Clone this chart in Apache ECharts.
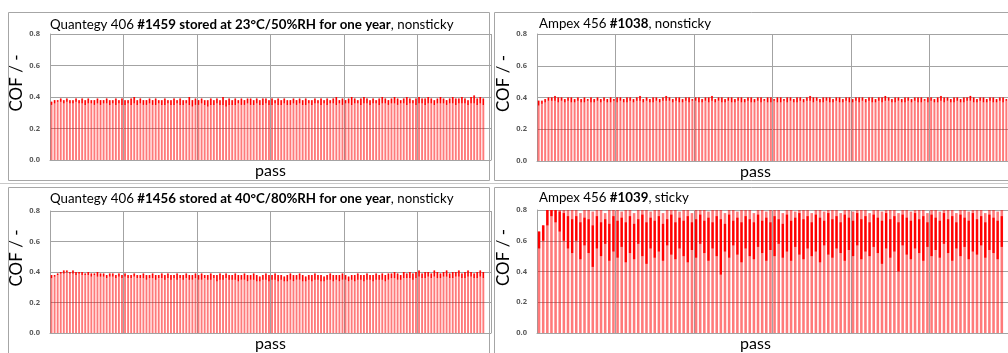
<!DOCTYPE html>
<html><head><meta charset="utf-8">
<script src="https://cdn.jsdelivr.net/npm/echarts@6/dist/echarts.min.js"></script>
<style>html,body{margin:0;padding:0;background:#fff}#c{width:1008px;height:353px}</style>
</head><body><div id="c"></div>
<script>
// ---- titles / labels ----
const titles = [
  ['Quantegy 406 ', '#1459 stored at 23°C/50%RH for one year', ', nonsticky'],
  ['Ampex 456 ', '#1038', ', nonsticky'],
  ['Quantegy 406 ', '#1456 stored at 40°C/80%RH for one year', ', nonsticky'],
  ['Ampex 456 ', '#1039', ', sticky']
];
const yName = 'COF / -';
const xName = 'pass';
const yTicks = [0.0, 0.2, 0.4, 0.6, 0.8];

// ---- data: per pass, max COF (peak), lower/upper bound of the dense COF band ----
const tlPeak = [0.37,0.38,0.38,0.39,0.38,0.39,0.38,0.38,0.39,0.38,0.39,0.38,0.39,0.38,0.38,0.39,0.38,0.38,0.39,0.38,
0.38,0.39,0.38,0.39,0.38,0.38,0.39,0.40,0.38,0.39,0.38,0.38,0.39,0.38,0.39,0.38,0.38,0.39,0.38,0.38,
0.39,0.38,0.39,0.38,0.38,0.40,0.38,0.39,0.38,0.39,0.38,0.38,0.39,0.38,0.39,0.38,0.40,0.38,0.39,0.38,
0.39,0.38,0.39,0.38,0.39,0.39,0.38,0.39,0.38,0.39,0.39,0.38,0.39,0.38,0.39,0.38,0.39,0.38,0.38,0.39,
0.38,0.39,0.38,0.39,0.38,0.38,0.39,0.38,0.39,0.38,0.39,0.38,0.39,0.40,0.38,0.39,0.38,0.39,0.40,0.39,
0.38,0.39,0.40,0.39,0.38,0.39,0.38,0.39,0.40,0.39,0.38,0.39,0.40,0.39,0.38,0.39,0.40,0.39,0.38,0.39,
0.40,0.39,0.39,0.40,0.39,0.38,0.39,0.40,0.39,0.38,0.39,0.40,0.39,0.39,0.40,0.39,0.38,0.40,0.41,0.39,
0.40,0.39];
const tlLow = [0.35,0.36,0.37,0.37,0.36,0.37,0.36,0.36,0.37,0.36,0.36,0.35,0.36,0.36,0.35,0.36,0.35,0.36,0.36,0.35,
0.36,0.35,0.36,0.35,0.35,0.36,0.35,0.36,0.35,0.36,0.35,0.35,0.36,0.35,0.35,0.36,0.35,0.35,0.36,0.35,
0.35,0.36,0.35,0.35,0.36,0.35,0.34,0.35,0.35,0.36,0.35,0.34,0.35,0.35,0.36,0.35,0.35,0.34,0.35,0.35,
0.35,0.36,0.35,0.35,0.36,0.35,0.35,0.36,0.35,0.35,0.36,0.35,0.35,0.36,0.35,0.35,0.36,0.35,0.35,0.36,
0.35,0.36,0.35,0.35,0.36,0.35,0.36,0.36,0.35,0.36,0.35,0.36,0.36,0.35,0.36,0.35,0.36,0.36,0.35,0.36,
0.36,0.35,0.36,0.36,0.35,0.36,0.36,0.35,0.36,0.36,0.35,0.36,0.36,0.35,0.36,0.36,0.35,0.36,0.36,0.35,
0.36,0.36,0.35,0.36,0.36,0.35,0.36,0.36,0.36,0.35,0.36,0.36,0.35,0.36,0.36,0.36,0.35,0.36,0.36,0.35,
0.36,0.35];

const trPeak = [0.38,0.38,0.39,0.40,0.40,0.41,0.40,0.40,0.39,0.40,0.40,0.39,0.40,0.39,0.40,0.39,0.40,0.39,0.40,0.39,
0.40,0.39,0.40,0.39,0.40,0.40,0.39,0.40,0.40,0.39,0.40,0.41,0.39,0.40,0.39,0.40,0.40,0.39,0.40,0.41,
0.40,0.39,0.40,0.40,0.39,0.40,0.40,0.39,0.40,0.40,0.39,0.40,0.40,0.41,0.39,0.40,0.40,0.39,0.40,0.40,
0.39,0.40,0.40,0.39,0.40,0.40,0.39,0.40,0.40,0.39,0.40,0.40,0.39,0.40,0.40,0.39,0.40,0.40,0.39,0.40,
0.40,0.39,0.40,0.41,0.40,0.40,0.39,0.40,0.40,0.40,0.39,0.40,0.40,0.39,0.40,0.40,0.39,0.40,0.40,0.40,
0.39,0.40,0.40,0.39,0.40,0.40,0.41,0.40,0.39,0.40,0.40,0.39,0.40,0.40,0.39,0.40,0.40,0.40,0.39,0.40,
0.40,0.39,0.40,0.41,0.40,0.40,0.39,0.40,0.40,0.39,0.40,0.40,0.41,0.40,0.39,0.40,0.40,0.39,0.40,0.40,
0.39,0.40,0.40,0.39];
const trLow = [0.35,0.36,0.37,0.38,0.38,0.38,0.37,0.38,0.37,0.38,0.37,0.37,0.38,0.37,0.37,0.38,0.37,0.37,0.38,0.37,
0.38,0.37,0.37,0.38,0.37,0.38,0.37,0.37,0.38,0.37,0.38,0.38,0.37,0.38,0.37,0.37,0.38,0.37,0.38,0.38,
0.38,0.37,0.38,0.37,0.37,0.38,0.37,0.38,0.38,0.37,0.37,0.38,0.37,0.38,0.37,0.38,0.37,0.37,0.38,0.37,
0.37,0.38,0.37,0.37,0.38,0.37,0.37,0.38,0.37,0.38,0.37,0.37,0.38,0.37,0.37,0.38,0.37,0.38,0.37,0.37,
0.38,0.37,0.38,0.38,0.37,0.38,0.37,0.37,0.38,0.37,0.37,0.38,0.37,0.37,0.38,0.37,0.37,0.38,0.37,0.38,
0.37,0.38,0.37,0.37,0.38,0.37,0.38,0.38,0.37,0.37,0.38,0.37,0.37,0.38,0.37,0.38,0.37,0.37,0.38,0.37,
0.38,0.37,0.37,0.38,0.37,0.38,0.37,0.37,0.38,0.37,0.37,0.38,0.38,0.37,0.37,0.38,0.37,0.37,0.38,0.37,
0.37,0.38,0.37,0.38];

const blPeak = [0.38,0.38,0.39,0.40,0.41,0.41,0.40,0.41,0.40,0.40,0.40,0.39,0.40,0.39,0.39,0.40,0.39,0.39,0.38,0.39,
0.39,0.38,0.39,0.38,0.39,0.38,0.38,0.39,0.38,0.38,0.39,0.38,0.38,0.39,0.38,0.38,0.39,0.38,0.39,0.38,
0.38,0.39,0.38,0.38,0.39,0.38,0.38,0.39,0.38,0.39,0.38,0.38,0.39,0.38,0.38,0.39,0.38,0.39,0.38,0.38,
0.39,0.38,0.38,0.39,0.38,0.38,0.39,0.38,0.37,0.38,0.39,0.38,0.38,0.39,0.38,0.38,0.37,0.38,0.39,0.38,
0.38,0.39,0.38,0.37,0.38,0.38,0.39,0.38,0.38,0.37,0.38,0.39,0.38,0.38,0.38,0.39,0.38,0.37,0.38,0.38,
0.39,0.38,0.38,0.39,0.38,0.38,0.39,0.38,0.39,0.38,0.39,0.39,0.40,0.39,0.38,0.40,0.39,0.40,0.39,0.40,
0.41,0.39,0.40,0.40,0.39,0.41,0.40,0.39,0.40,0.41,0.39,0.40,0.40,0.41,0.39,0.40,0.41,0.40,0.39,0.40,
0.41,0.40];
const blLow = [0.36,0.37,0.38,0.39,0.39,0.40,0.39,0.39,0.38,0.39,0.38,0.38,0.38,0.37,0.38,0.37,0.37,0.37,0.36,0.37,
0.37,0.36,0.37,0.36,0.37,0.36,0.36,0.37,0.36,0.36,0.36,0.35,0.36,0.36,0.35,0.36,0.36,0.35,0.36,0.35,
0.36,0.35,0.36,0.35,0.36,0.35,0.35,0.36,0.35,0.35,0.36,0.35,0.35,0.36,0.34,0.35,0.35,0.36,0.35,0.35,
0.35,0.34,0.35,0.35,0.34,0.35,0.35,0.34,0.34,0.35,0.35,0.34,0.35,0.35,0.34,0.35,0.34,0.34,0.35,0.34,
0.35,0.35,0.34,0.34,0.35,0.34,0.35,0.35,0.34,0.34,0.35,0.35,0.34,0.35,0.34,0.35,0.35,0.34,0.35,0.34,
0.35,0.35,0.34,0.35,0.35,0.34,0.35,0.35,0.35,0.34,0.35,0.36,0.36,0.35,0.35,0.36,0.36,0.36,0.35,0.36,
0.37,0.36,0.36,0.37,0.36,0.37,0.36,0.36,0.37,0.37,0.36,0.36,0.37,0.37,0.36,0.36,0.37,0.37,0.36,0.36,
0.37,0.36];

const brPeak = [0.66,0.70,0.85,0.85,0.85,0.82,0.80,0.80,0.80,0.80,0.78,0.80,0.80,0.79,0.80,0.80,0.78,0.80,0.80,0.80,
0.79,0.80,0.80,0.78,0.80,0.80,0.80,0.79,0.80,0.80,0.78,0.80,0.80,0.80,0.79,0.80,0.80,0.78,0.80,0.80,
0.80,0.79,0.80,0.80,0.80,0.78,0.80,0.80,0.79,0.80,0.80,0.80,0.78,0.80,0.80,0.79,0.80,0.80,0.80,0.78,
0.80,0.80,0.79,0.80,0.80,0.80,0.78,0.80,0.80,0.79,0.80,0.80,0.80,0.78,0.80,0.80,0.79,0.80,0.80,0.80,
0.78,0.80,0.80,0.79,0.80,0.80,0.80,0.78,0.80,0.80,0.79,0.80,0.80,0.80,0.78,0.80,0.80,0.79,0.80,0.80,
0.80,0.78,0.80,0.80,0.79,0.80,0.80,0.80,0.78,0.80,0.80,0.79,0.80];
const brHigh = [0.66,0.70,0.80,0.80,0.80,0.79,0.78,0.76,0.74,0.76,0.72,0.75,0.74,0.70,0.76,0.72,0.74,0.71,0.76,0.73,
0.75,0.72,0.76,0.71,0.74,0.77,0.72,0.75,0.73,0.76,0.71,0.74,0.77,0.72,0.75,0.73,0.76,0.72,0.74,0.77,
0.73,0.75,0.72,0.76,0.74,0.71,0.77,0.73,0.75,0.72,0.76,0.74,0.72,0.77,0.73,0.75,0.72,0.76,0.74,0.71,
0.77,0.73,0.75,0.78,0.74,0.76,0.72,0.77,0.75,0.73,0.78,0.74,0.76,0.72,0.77,0.75,0.73,0.78,0.74,0.76,
0.72,0.77,0.75,0.73,0.78,0.74,0.76,0.72,0.77,0.75,0.73,0.78,0.74,0.76,0.72,0.77,0.75,0.73,0.78,0.74,
0.76,0.72,0.77,0.75,0.73,0.78,0.74,0.76,0.72,0.77,0.75,0.73,0.76];
const brLow = [0.55,0.60,0.70,0.76,0.72,0.66,0.60,0.55,0.52,0.60,0.48,0.57,0.52,0.43,0.55,0.50,0.58,0.47,0.53,0.49,
0.56,0.46,0.52,0.48,0.58,0.50,0.45,0.55,0.49,0.53,0.47,0.57,0.51,0.48,0.55,0.50,0.46,0.54,0.49,0.58,
0.52,0.47,0.55,0.50,0.38,0.53,0.49,0.57,0.51,0.46,0.55,0.50,0.48,0.56,0.52,0.47,0.54,0.50,0.58,0.49,
0.53,0.47,0.56,0.51,0.48,0.55,0.50,0.53,0.46,0.57,0.51,0.49,0.55,0.52,0.47,0.54,0.50,0.57,0.48,0.53,
0.50,0.56,0.52,0.45,0.55,0.49,0.53,0.40,0.57,0.51,0.48,0.55,0.52,0.47,0.56,0.50,0.54,0.49,0.58,0.52,
0.47,0.55,0.50,0.56,0.48,0.53,0.51,0.57,0.49,0.54,0.52,0.48,0.56];

// ---- layout ----
const FONT = 'Lato, "Open Sans", sans-serif';
const panels = [
  {grid:{left:50, top:34, width:441, height:126}, xMax:144, xInt:24, peak:tlPeak, low:tlLow, high:tlPeak, tx:50, ty:18, passPad:[0,0,0,0], dark:0.4},
  {grid:{left:537, top:34, width:480, height:127}, xMax:144, xInt:24, peak:trPeak, low:trLow, high:trPeak, tx:539, ty:17, passPad:[0,34,0,0], dark:0.4},
  {grid:{left:50, top:211, width:441, height:125}, xMax:144, xInt:24, peak:blPeak, low:blLow, high:blPeak, tx:50, ty:192, passPad:[0,0,0,0], dark:0.4},
  {grid:{left:537, top:210, width:480, height:126}, xMax:114, xInt:19, peak:brPeak, low:brLow, high:brHigh, tx:539, ty:191, passPad:[0,34,0,0], dark:0.55}
];

function makeRender(darkFrac) {
  return function(params, api) {
    const x = api.value(0);
    const base = api.coord([x, 0]);
    const top = api.coord([x, api.value(1)]);
    const lo = api.coord([x, api.value(2)]);
    const hi = api.coord([x, api.value(3)]);
    const w = api.size([1, 0])[0];
    const pw = w * 0.62, dw = Math.max(1.3, w * darkFrac);
    return {type:'group', children:[
      {type:'rect', shape:{x:base[0]-pw/2, y:top[1], width:pw, height:base[1]-top[1]}, style:{fill:'rgba(255,0,0,0.52)'}},
      {type:'rect', shape:{x:base[0]-dw/2, y:hi[1], width:dw, height:Math.max(1, lo[1]-hi[1])}, style:{fill:'#ff0000'}}
    ]};
  };
}

const gridLine = '#a3a3a3';
const option = {
  backgroundColor:'#fff',
  animation:false,
  title: panels.map((p,i)=>({
    text:'{n|'+titles[i][0]+'}{b|'+titles[i][1]+'}{n|'+titles[i][2]+'}',
    left:p.tx, top:p.ty, padding:0,
    textStyle:{fontWeight:'normal', rich:{
      n:{fontFamily:FONT, fontSize:13.3, color:'#000', fontWeight:'normal'},
      b:{fontFamily:FONT, fontSize:13.3, color:'#000', fontWeight:'bold'}
    }}
  })),
  grid: panels.map(p=>p.grid),
  xAxis: panels.map((p,i)=>({
    type:'value', gridIndex:i, min:0, max:p.xMax, interval:p.xInt,
    name:xName, nameLocation:'middle', nameGap:3,
    nameTextStyle:{fontFamily:FONT, fontSize:16, color:'#000', padding:p.passPad},
    axisLabel:{show:false}, axisTick:{show:false},
    axisLine:{show:true, lineStyle:{color:gridLine, width:1}},
    splitLine:{show:true, lineStyle:{color:gridLine, width:1}}
  })),
  yAxis: panels.map((p,i)=>({
    type:'value', gridIndex:i, min:yTicks[0], max:yTicks[yTicks.length-1], interval:0.2,
    name:yName, nameLocation:'middle', nameGap:10, nameRotate:90,
    nameTextStyle:{fontFamily:FONT, fontSize:17, color:'#000', padding:[0,0,0,28]},
    axisLabel:{fontFamily:'"Open Sans", sans-serif', fontSize:7.5, fontWeight:'bold', color:'#595959', margin:10,
      formatter:v=>v.toFixed(1)},
    axisTick:{show:false},
    axisLine:{show:true, lineStyle:{color:gridLine, width:1}},
    splitLine:{show:true, lineStyle:{color:gridLine, width:1}}
  })),
  series: panels.map((p,i)=>({
    type:'custom', xAxisIndex:i, yAxisIndex:i, clip:true,
    renderItem:makeRender(p.dark),
    encode:{x:0, y:[1,2,3]},
    data:p.peak.map((v,k)=>[k+0.5, v, p.low[k], p.high[k]])
  })),
  graphic:[
    {type:'rect', shape:{x:8.5, y:12.5, width:481, height:168}, style:{fill:'none', stroke:'#a6a6a6', lineWidth:1}, silent:true},
    {type:'rect', shape:{x:494.5, y:12.5, width:600, height:168}, style:{fill:'none', stroke:'#a6a6a6', lineWidth:1}, silent:true},
    {type:'line', shape:{x1:0, y1:183.5, x2:1008, y2:183.5}, style:{stroke:'#c8c8c8', lineWidth:1}, silent:true},
    {type:'rect', shape:{x:8.5, y:187.5, width:481, height:200}, style:{fill:'none', stroke:'#a6a6a6', lineWidth:1}, silent:true},
    {type:'rect', shape:{x:494.5, y:187.5, width:600, height:200}, style:{fill:'none', stroke:'#a6a6a6', lineWidth:1}, silent:true}
  ]
};
const chart = echarts.init(document.getElementById('c'), null, {renderer:'canvas'});
chart.setOption(option);
</script></body></html>
